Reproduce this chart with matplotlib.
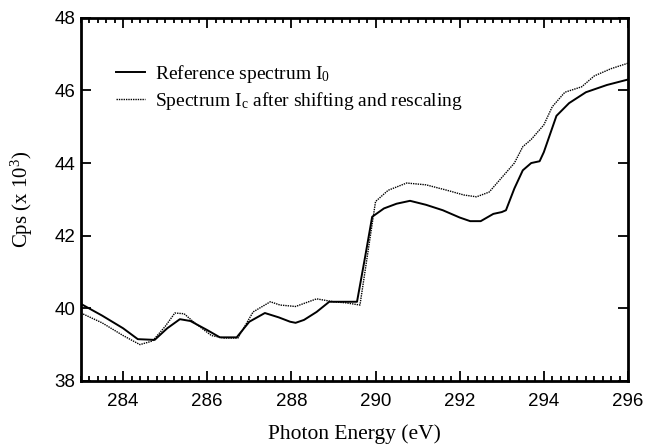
import matplotlib
matplotlib.use('Agg')
import matplotlib.pyplot as plt
from matplotlib.ticker import MultipleLocator

plt.rcParams['font.family'] = 'Liberation Sans'
plt.rcParams['mathtext.fontset'] = 'custom'
plt.rcParams['mathtext.rm'] = 'Liberation Serif'
plt.rcParams['mathtext.it'] = 'Liberation Serif:italic'

# reference spectrum I0
e_ref = [283.0, 283.5, 284.0, 284.35, 284.75, 285.05, 285.35, 285.6, 286.0, 286.3,
         286.7, 287.0, 287.37, 287.7, 287.97, 288.1, 288.3, 288.6, 288.9, 289.3,
         289.56, 289.75, 289.92, 290.2, 290.5, 290.82, 291.2, 291.6, 292.0, 292.25,
         292.5, 292.8, 293.0, 293.1, 293.3, 293.5, 293.7, 293.9, 294.0, 294.3,
         294.6, 295.0, 295.5, 296.0]
i_ref = [40.12, 39.8, 39.45, 39.15, 39.13, 39.45, 39.7, 39.65, 39.4, 39.2,
         39.2, 39.63, 39.87, 39.75, 39.63, 39.6, 39.68, 39.9, 40.18, 40.18,
         40.18, 41.4, 42.52, 42.75, 42.88, 42.96, 42.85, 42.7, 42.5, 42.4,
         42.4, 42.6, 42.65, 42.7, 43.3, 43.8, 44.0, 44.05, 44.3, 45.3,
         45.65, 45.95, 46.15, 46.3]

# shifted and rescaled spectrum Ic
e_cor = [283.0, 283.5, 284.0, 284.4, 284.7, 285.0, 285.23, 285.45, 285.7, 286.1,
         286.4, 286.73, 287.09, 287.5, 287.73, 288.1, 288.6, 289.0, 289.3, 289.63,
         290.0, 290.3, 290.74, 291.2, 291.7, 292.1, 292.4, 292.7, 293.0, 293.3,
         293.5, 293.7, 294.0, 294.2, 294.5, 294.9, 295.2, 295.6, 296.0]
i_cor = [39.87, 39.6, 39.25, 39.0, 39.1, 39.5, 39.87, 39.85, 39.6, 39.25,
         39.18, 39.18, 39.9, 40.18, 40.09, 40.05, 40.26, 40.18, 40.15, 40.09,
         42.94, 43.25, 43.45, 43.4, 43.25, 43.12, 43.07, 43.2, 43.6, 44.0,
         44.45, 44.65, 45.05, 45.55, 45.95, 46.1, 46.4, 46.6, 46.75]

fig = plt.figure(figsize=(6.45, 4.45), dpi=100)
ax = fig.add_axes([0.1256, 0.144, 0.848, 0.816])

ax.plot(e_ref, i_ref, color='black', lw=1.4,
        label=r'Reference spectrum I$_0$')
ax.plot(e_cor, i_cor, color='black', lw=1.0, ls=(0, (1, 0.7)),
        label=r'Spectrum I$_\mathrm{c}$ after shifting and rescaling')

ax.set_xlim(283, 296)
ax.set_ylim(38, 48)
ax.xaxis.set_major_locator(MultipleLocator(2))
ax.xaxis.set_minor_locator(MultipleLocator(0.2))
ax.yaxis.set_major_locator(MultipleLocator(2))
ax.tick_params(which='both', direction='in', top=True, right=True,
               labelsize=13.5, width=1.3)
ax.tick_params(which='major', length=7)
ax.tick_params(which='minor', length=3.5)
ax.tick_params(axis='x', pad=9)
ax.tick_params(axis='y', pad=4)
for s in ax.spines.values():
    s.set_linewidth(2)

ax.set_xlabel('Photon Energy (eV)', family='Liberation Serif', fontsize=15.5)
ax.xaxis.set_label_coords(0.5, -0.12)
ax.set_ylabel(r'Cps (x 10$^3$)', family='Liberation Serif', fontsize=15)
ax.yaxis.set_label_coords(-0.085, 0.5)

ax.legend(loc='upper left', bbox_to_anchor=(0.064, 0.875), frameon=False,
          borderpad=0, borderaxespad=0,
          handlelength=1.5, handletextpad=0.5, labelspacing=0.25,
          prop={'family': 'Liberation Serif', 'size': 14})

fig.savefig('out.png', dpi=100)
